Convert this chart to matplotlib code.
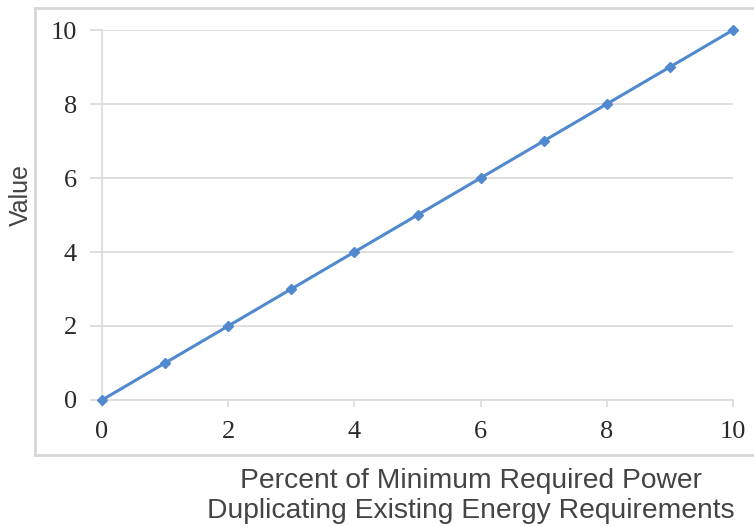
import matplotlib
matplotlib.use("Agg")
import matplotlib.pyplot as plt
from matplotlib.lines import Line2D

x_vals = [0, 1, 2, 3, 4, 5, 6, 7, 8, 9, 10]
y_vals = [0, 1, 2, 3, 4, 5, 6, 7, 8, 9, 10]
x_ticks = [0, 2, 4, 6, 8, 10]
y_ticks = [0, 2, 4, 6, 8, 10]
x_label = "Percent of Minimum Required Power\nDuplicating Existing Energy Requirements"
y_label = "Value"

W, H = 754, 527
fig = plt.figure(figsize=(W/100, H/100), dpi=100)
ax = fig.add_axes([102/W, 1-400/H, (733-102)/W, (400-30)/H])

line_color = "#5089CD"
ax.plot(x_vals, y_vals, color=line_color, lw=2.2, marker="D", ms=5.5, clip_on=False, zorder=3)
ax.set_xlim(0, 10)
ax.set_ylim(0, 10)
ax.set_xticks(x_ticks)
ax.set_yticks(y_ticks)
grid_c = "#DCDCDC"
ax.yaxis.grid(True, color=grid_c, lw=1.3)
ax.set_axisbelow(True)
for s in ["top", "right"]:
    ax.spines[s].set_visible(False)
for s in ["left", "bottom"]:
    ax.spines[s].set_color(grid_c)
    ax.spines[s].set_linewidth(1.3)
ax.tick_params(axis="y", length=9, color=grid_c, width=1.3, pad=9)
ax.tick_params(axis="x", length=5, color=grid_c, width=1.3, pad=10)
for lbl in ax.get_xticklabels() + ax.get_yticklabels():
    lbl.set_fontfamily("Liberation Serif")
    lbl.set_fontsize(19)
    lbl.set_color("#2A2A2A")

fig.text(21/W, 1-195/H, y_label, rotation=90, ha="center", va="center",
         fontsize=18, color="#444444", family="Liberation Sans")
fig.text(471/W, 1-496/H, x_label, ha="center", va="center", fontsize=20.3,
         color="#444444", family="Liberation Sans", linespacing=1.2)

# outer chart border
bc = "#D6D6D6"
for xs, ys in [([35, 35], [8, 455]), ([35, W+5], [8, 8]), ([35, W+5], [455, 455])]:
    fig.add_artist(Line2D([v/W for v in xs], [1-v/H for v in ys], color=bc, lw=2,
                          transform=fig.transFigure))

fig.savefig("out.png", dpi=100)
